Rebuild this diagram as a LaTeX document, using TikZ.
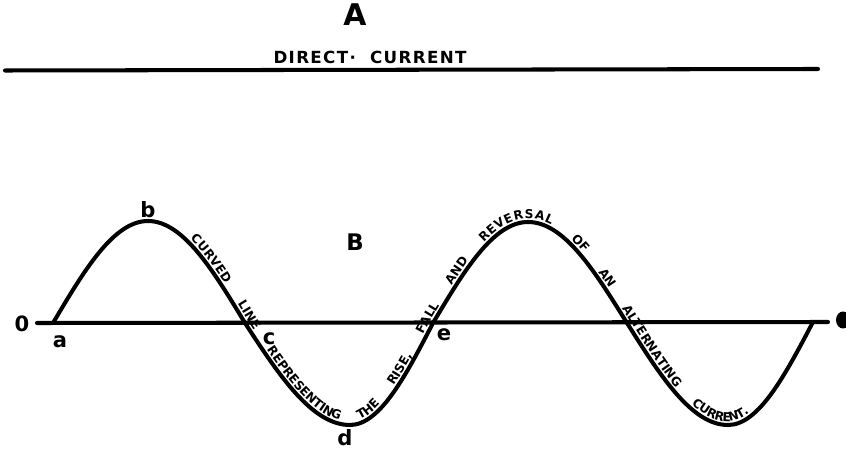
\documentclass[tikz,border=0pt]{standalone}
\usepackage{fontspec}
\setsansfont{DejaVu Sans}
\usetikzlibrary{decorations.text, positioning}
\tikzset{
	heavy/.style={line width=2.3pt, line cap=round},
	lbl/.style={font=\sffamily\bfseries\fontsize{12}{12}\selectfont, inner sep=0pt},
	biglbl/.style={font=\sffamily\bfseries\fontsize{13}{13}\selectfont, inner sep=0pt},
}

\begin{document}
\begin{tikzpicture}
	\useasboundingbox (0,0) rectangle (16.92,8.98);
	% Paths, nodes and wires:
	\node[biglbl, font=\sffamily\bfseries\fontsize{17}{17}\selectfont](A) at (7.1, 8.68){A};
	\coordinate (dc1) at (0.1, 7.57);
	\coordinate (dc2) at (16.36, 7.6);
	\draw[heavy] (dc1) -- (dc2);
	\node[inner sep=0pt, font=\sffamily\bfseries\fontsize{9.5}{9.5}\selectfont](DC) at (7.4, 7.83){\addfontfeature{LetterSpace=8}DIRECT·\ \ CURRENT};
	\coordinate (o1) at (0.74, 2.52);
	\coordinate (o2) at (16.56, 2.54);
	\draw[heavy] (o1) -- (o2);
	\fill (16.86, 2.58) ellipse (0.14 and 0.17);
	\node[lbl](zero) at (0.44, 2.5){0};
	\coordinate (a) at (1.06, 2.52);
	\coordinate (b) at (2.96, 4.56);
	\coordinate (c) at (4.90, 2.52);
	\coordinate (d) at (7.00, 0.48);
	\coordinate (e) at (8.66, 2.52);
	\coordinate (f) at (10.56, 4.54);
	\coordinate (g) at (12.54, 2.52);
	\coordinate (h) at (14.56, 0.48);
	\coordinate (k) at (16.26, 2.54);
	\draw[heavy, postaction={decorate, decoration={text along path, raise=2pt,
		text align={left indent=3.8cm, right indent=2.25cm, fit to path stretching spaces},
		text={|\sffamily\bfseries\fontsize{7}{8}\selectfont|CURVED LINE REPRESENTING THE RISE, FALL AND REVERSAL OF AN ALTERNATING CURRENT.}}}]
		(a) .. controls +(0.62,1.045) and +(-0.69,0) .. (b)
		.. controls +(0.70,0) and +(-0.63,1.045) .. (c)
		.. controls +(0.68,-1.045) and +(-0.76,0) .. (d)
		.. controls +(0.60,0) and +(-0.54,-1.045) .. (e)
		.. controls +(0.62,1.045) and +(-0.69,0) .. (f)
		.. controls +(0.72,0) and +(-0.65,1.045) .. (g)
		.. controls +(0.66,-1.045) and +(-0.73,0) .. (h)
		.. controls +(0.62,0) and +(-0.55,-1.045) .. (k);
	\node[lbl](la) at (1.2, 2.14){a};
	\node[lbl](lb) at (2.96, 4.78){b};
	\node[lbl](lc) at (5.38, 2.2){c};
	\node[lbl](ld) at (6.9, 0.22){d};
	\node[lbl](le) at (8.88, 2.28){e};
	\node[biglbl](B) at (7.1, 4.14){B};
\end{tikzpicture}
\end{document}
